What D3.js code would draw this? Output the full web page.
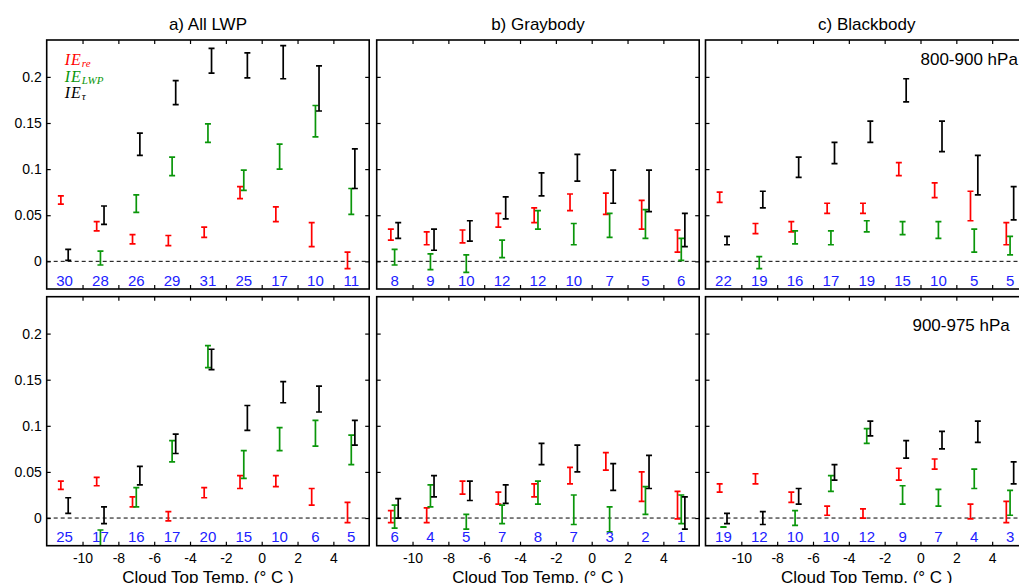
<!DOCTYPE html>
<html>
  <head>
    <title>Interaction estimates vs cloud top temperature</title>
    <script src="https://cdn.jsdelivr.net/npm/d3@7"></script>
    <style>
      body { margin: 0; background: #fff; }
      text { font-family: "Liberation Sans", Arial, Helvetica, sans-serif; }
    </style>
  </head>
  <body>
    <svg width="1019" height="583" id="mainsvg"></svg>
    <script>

    // temperature bins (deg C) and axis ticks
    const bins = [-11, -9, -7, -5, -3, -1, 1, 3, 5];
    const xTicks = [-10, -8, -6, -4, -2, 0, 2, 4];
    const yTicks = [0, 0.05, 0.1, 0.15, 0.2];
    const panelTitles = ['a) All LWP', 'b) Graybody', 'c) Blackbody'];
    const layerLabels = ['800-900 hPa', '900-975 hPa'];

    // error bars [low, high]; null = not drawn
    // 800-900 hPa
    const re_a1  = [[0.062,0.071],[0.033,0.043],[0.019,0.029],[0.017,0.028],[0.026,0.037],[0.068,0.081],[0.043,0.059],[0.016,0.042],[-0.008,0.010]];
    const lwp_a1 = [null,[-0.004,0.011],[0.053,0.072],[0.093,0.113],[0.129,0.149],[0.077,0.099],[0.100,0.127],[0.135,0.169],[0.051,0.079]];
    const tau_a1 = [[0.001,0.013],[0.040,0.060],[0.115,0.139],[0.170,0.196],[0.204,0.231],[0.199,0.226],[0.198,0.234],[0.163,0.212],[0.079,0.122]];
    const re_b1  = [[0.023,0.035],[0.018,0.032],[0.020,0.034],[0.037,0.052],[0.042,0.058],[0.055,0.073],[0.051,0.074],[0.035,0.066],[0.010,0.034]];
    const lwp_b1 = [[-0.004,0.013],[-0.009,0.008],[-0.012,0.007],[0.004,0.023],[0.035,0.055],[0.018,0.041],[0.026,0.052],[0.025,0.056],[0.001,0.025]];
    const tau_b1 = [[0.025,0.042],[0.012,0.035],[0.022,0.044],[0.046,0.070],[0.071,0.096],[0.087,0.116],[0.063,0.099],[0.054,0.099],[0.016,0.052]];
    const re_c1  = [[0.064,0.075],[0.030,0.041],[0.032,0.043],[0.052,0.063],[0.052,0.063],[0.093,0.107],[0.069,0.085],[0.044,0.076],[0.018,0.042]];
    const lwp_c1 = [null,[-0.008,0.005],[0.019,0.033],[0.018,0.033],[0.032,0.044],[0.029,0.043],[0.025,0.043],[0.010,0.035],[0.007,0.027]];
    const tau_c1 = [[0.018,0.027],[0.058,0.076],[0.091,0.113],[0.106,0.129],[0.129,0.152],[0.173,0.198],[0.119,0.152],[0.072,0.115],[0.045,0.081]];
    // 900-975 hPa
    const re_a2  = [[0.031,0.040],[0.035,0.044],[0.012,0.023],[-0.003,0.007],[0.022,0.033],[0.032,0.046],[0.034,0.046],[0.014,0.032],[-0.005,0.017]];
    const lwp_a2 = [null,[-0.045,-0.013],[0.012,0.033],[0.061,0.084],[0.163,0.187],[0.043,0.073],[0.073,0.098],[0.078,0.106],[0.058,0.090]];
    const tau_a2 = [[0.005,0.022],[-0.006,0.012],[0.036,0.056],[0.070,0.091],[0.161,0.183],[0.095,0.122],[0.125,0.148],[0.115,0.143],[0.079,0.106]];
    const re_b2  = [[-0.005,0.008],[-0.005,0.011],[0.026,0.040],[0.015,0.028],[0.023,0.037],[0.037,0.055],[0.052,0.071],[0.018,0.050],[-0.001,0.029]];
    const lwp_b2 = [[-0.011,0.014],[0.012,0.036],[-0.012,0.004],[-0.006,0.014],[0.015,0.040],[-0.007,0.025],[-0.015,0.012],[0.004,0.034],[-0.006,0.025]];
    const tau_b2 = [[0.000,0.021],[0.023,0.046],[0.019,0.040],[0.016,0.036],[0.058,0.081],[0.050,0.079],[0.030,0.059],[0.032,0.068],[-0.012,0.023]];
    const re_c2  = [[0.028,0.037],[0.037,0.048],[0.017,0.028],[0.003,0.013],[0.000,0.010],[0.041,0.054],[0.053,0.064],[-0.001,0.015],[-0.005,0.018]];
    const lwp_c2 = [[-0.0100,-0.0096],null,[-0.008,0.008],[0.029,0.046],[0.081,0.097],[0.015,0.035],[0.013,0.031],[0.032,0.053],[0.003,0.030]];
    const tau_c2 = [[-0.006,0.005],[-0.007,0.007],[0.015,0.032],[0.041,0.058],[0.089,0.105],[0.065,0.084],[0.075,0.094],[0.082,0.105],[0.037,0.061]];

    // number of cases in each bin
    const n_a1 = [30, 28, 26, 29, 31, 25, 17, 10, 11];
    const n_b1 = [8, 9, 10, 12, 12, 10, 7, 5, 6];
    const n_c1 = [22, 19, 16, 17, 19, 15, 10, 5, 5];
    const n_a2 = [25, 17, 16, 17, 20, 15, 10, 6, 5];
    const n_b2 = [6, 4, 5, 7, 8, 7, 3, 2, 1];
    const n_c2 = [19, 12, 10, 10, 12, 9, 7, 4, 3];

    const panels = [
      {row: 0, col: 0, re: re_a1, lwp: lwp_a1, tau: tau_a1, n: n_a1},
      {row: 0, col: 1, re: re_b1, lwp: lwp_b1, tau: tau_b1, n: n_b1},
      {row: 0, col: 2, re: re_c1, lwp: lwp_c1, tau: tau_c1, n: n_c1},
      {row: 1, col: 0, re: re_a2, lwp: lwp_a2, tau: tau_a2, n: n_a2},
      {row: 1, col: 1, re: re_b2, lwp: lwp_b2, tau: tau_b2, n: n_b2},
      {row: 1, col: 2, re: re_c2, lwp: lwp_c2, tau: tau_c2, n: n_c2}
    ];

    const svg = d3.select('svg');

    const colX = [46.7, 376.7, 705.5];
    const rowY = [40, 296.7];
    const pw = 322.5, ph = 249;

    const x = d3.scaleLinear().domain([-12, 6]).range([0, pw]);
    const y = d3.scaleLinear().domain([-0.03, 0.24]).range([ph, 0]);

    // series: key, colour, x offset
    const series = [
      {key: 're', color: '#ff0000', dx: -0.21},
      {key: 'lwp', color: '#0a960a', dx: 0},
      {key: 'tau', color: '#000000', dx: 0.2}
    ];

    panels.forEach(function(p, i) {
      const g = svg.append('g')
        .attr('transform', `translate(${colX[p.col]},${rowY[p.row]})`);

      g.append('clipPath').attr('id', 'clip' + i)
        .append('rect').attr('width', pw).attr('height', ph);

      // inside ticks on all four sides
      const ax = [
        d3.axisLeft(y).tickValues(yTicks).tickSize(-4).tickPadding(5)
          .tickFormat(p.col === 0 ? d => String(d) : ''),
        d3.axisRight(y).tickValues(yTicks).tickSize(-4).tickFormat(''),
        d3.axisTop(x).tickValues(xTicks).tickSize(-4).tickFormat(''),
        d3.axisBottom(x).tickValues(xTicks).tickSize(-4).tickPadding(7)
          .tickFormat(p.row === 1 ? d => String(d) : '')
      ];
      const shifts = [[0, 0], [pw, 0], [0, 0], [0, ph]];
      ax.forEach(function(a, k) {
        const ag = g.append('g')
          .attr('transform', `translate(${shifts[k][0]},${shifts[k][1]})`)
          .call(a);
        ag.select('.domain').remove();
        ag.selectAll('line').attr('stroke', '#000').attr('stroke-width', 1.2);
        ag.selectAll('text')
          .attr('fill', '#000')
          .style('font-size', '14px')
          .style('font-family', '"Liberation Sans", Arial, sans-serif');
      });

      // zero line
      g.append('line')
        .attr('x1', 0).attr('x2', pw)
        .attr('y1', y(0)).attr('y2', y(0))
        .attr('stroke', '#000').attr('stroke-width', 1)
        .attr('stroke-dasharray', '4,3');

      const plot = g.append('g').attr('clip-path', `url(#clip${i})`);

      series.forEach(function(s) {
        const rows = bins.map((b, j) => ({b: b, v: p[s.key][j]})).filter(d => d.v);
        const eb = plot.selectAll(null).data(rows).enter().append('g')
          .attr('stroke', s.color).attr('stroke-width', 1.7);
        eb.append('line')
          .attr('x1', d => x(d.b + s.dx)).attr('x2', d => x(d.b + s.dx))
          .attr('y1', d => y(d.v[0])).attr('y2', d => y(d.v[1]));
        eb.append('line')
          .attr('x1', d => x(d.b + s.dx) - 3).attr('x2', d => x(d.b + s.dx) + 3)
          .attr('y1', d => y(d.v[0])).attr('y2', d => y(d.v[0]));
        eb.append('line')
          .attr('x1', d => x(d.b + s.dx) - 3).attr('x2', d => x(d.b + s.dx) + 3)
          .attr('y1', d => y(d.v[1])).attr('y2', d => y(d.v[1]));
      });

      // case counts
      g.selectAll('text.count').data(p.n).enter().append('text')
        .attr('class', 'count')
        .attr('x', (d, j) => x(bins[j]))
        .attr('y', ph - 3.5)
        .attr('text-anchor', 'middle')
        .attr('fill', '#2020ff')
        .style('font-size', '15px')
        .text(d => d);

      // frame
      g.append('rect')
        .attr('width', pw).attr('height', ph)
        .attr('fill', 'none').attr('stroke', '#000').attr('stroke-width', 1.6);

      if (p.row === 0) {
        g.append('text')
          .attr('x', pw / 2).attr('y', -10)
          .attr('text-anchor', 'middle')
          .style('font-size', '17px')
          .text(panelTitles[p.col]);
      } else {
        g.append('text')
          .attr('x', pw / 2).attr('y', ph + 37)
          .attr('text-anchor', 'middle')
          .style('font-size', '17px')
          .text('Cloud Top Temp. (\u00b0 C )');
      }

      if (p.col === 2) {
        const pos = p.row === 0 ? [0, 0.213] : [-0.45, 0.203];
        g.append('text')
          .attr('x', x(pos[0])).attr('y', y(pos[1]))
          .style('font-size', '17px')
          .text(layerLabels[p.row]);
      }

      if (i === 0) {
        const leg = [['re', '#ff0000'], ['LWP', '#0a960a'], ['\u03c4', '#000']];
        leg.forEach(function(l, k) {
          const t = g.append('text')
            .attr('x', 18).attr('y', 25 + k * 16.5)
            .attr('fill', l[1])
            .style('font-family', '"Liberation Serif", "Times New Roman", serif')
            .style('font-style', 'italic');
          t.append('tspan').style('font-size', '16px').attr('letter-spacing', 1).text('IE');
          t.append('tspan').attr('dy', 2).style('font-size', '11px').text(l[0]);
        });
      }
    });

  </script>
  </body>
</html>
